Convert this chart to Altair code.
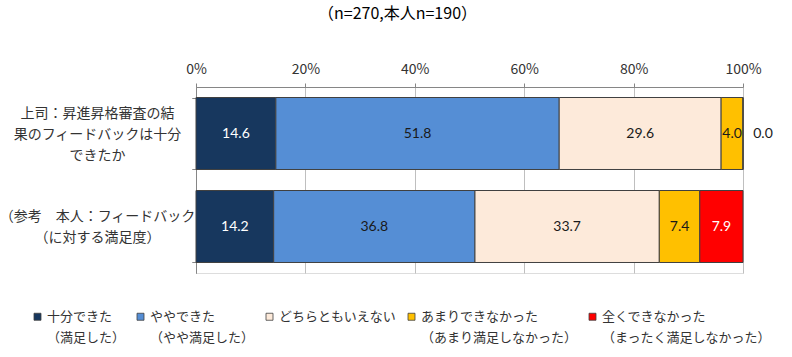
import altair as alt
import pandas as pd

# ---------------- data ----------------
title_text = "（n=270,本人n=190）"
questions = [
    "上司：昇進昇格審査の結\n果のフィードバックは十分\nできたか",
    "（参考　本人：フィードバック\n（に対する満足度）",
]
categories = ["十分できた", "ややできた", "どちらともいえない", "あまりできなかった", "全くできなかった"]
legend_sub = ["（満足した）", "（やや満足した）", "", "（あまり満足しなかった）", "（まったく満足しなかった）"]
colors = ["#17375E", "#558ED5", "#FDEADA", "#FFC000", "#FF0000"]
boss_values = [14.6, 51.8, 29.6, 4.0, 0.0]
self_values = [14.2, 36.8, 33.7, 7.4, 7.9]
x_ticks = [0, 20, 40, 60, 80, 100]

rows = []
for q, vals in zip(questions, [boss_values, self_values]):
    for i, (c, v) in enumerate(zip(categories, vals)):
        rows.append({"question": q, "category": c, "order": i, "value": v})
df = pd.DataFrame(rows)

JP = "Noto Sans CJK JP"
NUM = "Lato"

# legend label expression (two-line labels)
legend_expr = ""
for c, s in zip(categories, legend_sub):
    legend_expr += f"datum.label === '{c}' ? ['{c}', '{s}'] : "
legend_expr += "datum.label"

base = alt.Chart(df).transform_stack(
    stack="value", groupby=["question"], as_=["x0", "x1"],
    sort=[alt.SortField("order", order="ascending")]
).transform_calculate(mid="(datum.x0 + datum.x1) / 2")

y_scale = alt.Scale(paddingInner=0.226, paddingOuter=0.113)


def y_axis(expr, offset):
    return alt.Axis(
        title=None, orient="left", labelExpr=expr, labelAlign="center",
        labelPadding=95, labelFont=JP, labelFontSize=14, labelLineHeight=21,
        labelOffset=offset, labelLimit=300, labelColor="#333333",
        tickBand="extent", tickSize=4, domainColor="#868686", tickColor="#868686",
        grid=False,
    )


first_expr = "indexof(datum.label, '上司') === 0 ? split(datum.label, '\\n') : ''"
second_expr = "indexof(datum.label, '上司') === 0 ? '' : split(datum.label, '\\n')"

x_scale = alt.Scale(domain=[0, 100], nice=False)
x_axis = alt.Axis(
    orient="top", title=None, values=x_ticks, labelExpr="datum.value + '%'",
    labelFont=JP, labelFontSize=14, labelColor="#333333", labelPadding=7,
    labelFlush=False,
    tickSize=4, tickColor="#868686", domainColor="#868686",
    grid=True, gridColor="#BFBFBF", gridWidth=1,
)

bars = base.mark_bar(stroke="#404040", strokeWidth=1).encode(
    x=alt.X("x0:Q", scale=x_scale, axis=x_axis),
    x2="x1:Q",
    y=alt.Y("question:N", sort=questions, scale=y_scale, axis=y_axis(first_expr, -20)),
    color=alt.Color(
        "category:N",
        scale=alt.Scale(domain=categories, range=colors),
        legend=alt.Legend(
            title=None, orient="none", legendX=-165, legendY=223,
            direction="horizontal", columns=5, columnPadding=8,
            labelExpr=legend_expr, labelFont=JP, labelFontSize=13,
            labelColor="#333333", labelBaseline="middle",
            labelLimit=400, labelOffset=3, symbolType="square", symbolSize=49,
            symbolStrokeColor="#404040", symbolStrokeWidth=0.8, symbolOpacity=1,
            padding=0,
        ),
    ),
    order=alt.Order("order:Q"),
)

labels = base.transform_filter("datum.value > 0").mark_text(
    font=NUM, fontSize=14
).encode(
    x=alt.X("mid:Q", scale=x_scale, axis=x_axis),
    y=alt.Y("question:N", sort=questions, scale=y_scale, axis=y_axis(second_expr, -10)),
    text=alt.Text("value:Q", format=".1f"),
    color=alt.condition(
        alt.FieldOneOfPredicate(field="category", oneOf=[categories[0], categories[4]]),
        alt.value("white"), alt.value("#1a1a1a"),
    ),
)

zero_labels = base.transform_filter("datum.value == 0").mark_text(
    font=NUM, fontSize=14, dx=20, color="#1a1a1a"
).encode(
    x=alt.X("mid:Q", scale=x_scale, axis=x_axis),
    y=alt.Y("question:N", sort=questions, scale=y_scale, axis=None),
    text=alt.Text("value:Q", format=".1f"),
)

chart = alt.layer(bars, labels, zero_labels).resolve_axis(y="independent").properties(
    width=547, height=186,
    title=alt.TitleParams(
        text=title_text, font=JP, fontSize=16, fontWeight="normal", color="#000000",
        anchor="middle", frame="group", dx=-72, offset=40,
    ),
    padding={"left": 196, "top": 87, "right": 49, "bottom": 84},
    autosize="none",
).configure_view(strokeWidth=0).configure(
    background="white", style={"guide-label": {"lineHeight": 21}}
)

chart.save("out.html", embed_options={"renderer": "svg", "actions": False})
